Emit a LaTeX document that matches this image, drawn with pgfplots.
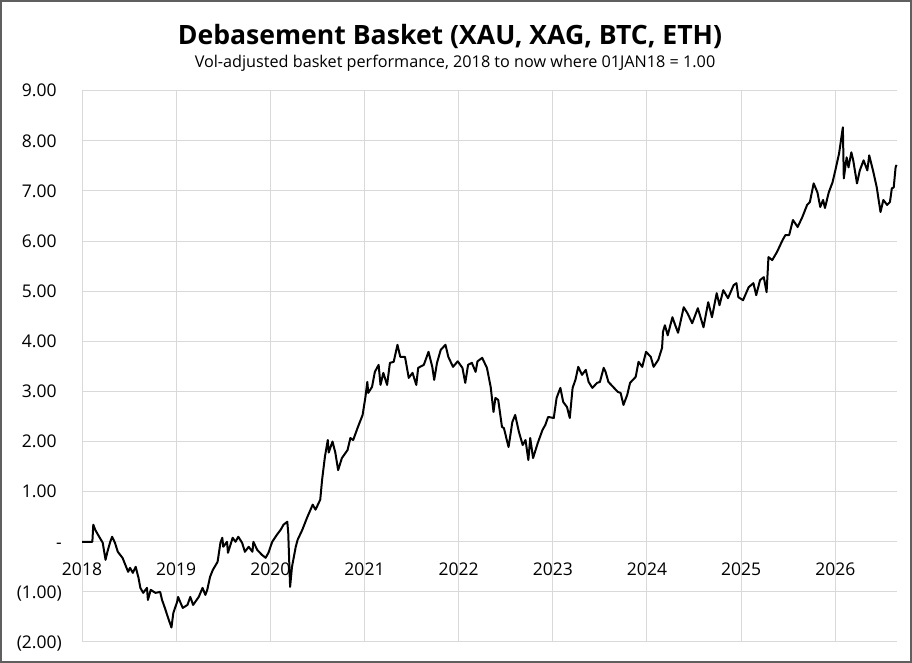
\documentclass[border=0pt]{standalone}
\usepackage{fontspec}
\setmainfont{Open Sans}
\usepackage{pgfplots}
\pgfplotsset{compat=1.18}
\definecolor{gridgray}{HTML}{D9D9D9}
\definecolor{framegray}{HTML}{5F5F5F}
\begin{document}
\begin{tikzpicture}[x=1pt,y=1pt]
\useasboundingbox (0,0) rectangle (912,663);
\draw[framegray, line width=2pt] (1,1) rectangle (911,662);
\node[anchor=base, inner sep=0pt] at (450,618) {\fontsize{26.6}{30}\selectfont\bfseries Debasement Basket (XAU, XAG, BTC, ETH)};
\node[anchor=base, inner sep=0pt] at (455,595) {\fontsize{16.2}{19}\selectfont Vol-adjusted basket performance, 2018 to now where 01JAN18 = 1.00};
\begin{axis}[
  at={(82pt,21pt)}, anchor=south west,
  scale only axis, width=815pt, height=551.3pt,
  xmin=2018, xmax=2026.655, ymin=-2, ymax=9,
  axis x line=middle, axis y line=left,
  axis line style={draw=none,-},
  hide obscured x ticks=false, hide obscured y ticks=false,
  major tick length=0pt,
  grid=major, major grid style={draw=gridgray, line width=1pt},
  xtick={2018,2019,2020,2021,2022,2023,2024,2025,2026},
  xticklabels={2018,2019,2020,2021,2022,2023,2024,2025,2026},
  ytick={-2,-1,0,1,2,3,4,5,6,7,8,9},
  yticklabels={{(2.00)},{(1.00)},{-\hspace{15pt}},{1.00\hphantom{)}},{2.00\hphantom{)}},{3.00\hphantom{)}},{4.00\hphantom{)}},{5.00\hphantom{)}},{6.00\hphantom{)}},{7.00\hphantom{)}},{8.00\hphantom{)}},{9.00\hphantom{)}}},
  /pgf/number format/assume math mode=true,
  ticklabel style={font=\fontsize{17.5}{20}\selectfont, text=black, inner sep=0pt},
  xticklabel style={anchor=base, yshift=-34pt},
  yticklabel style={anchor=base east, xshift=-20pt, yshift=-6.3pt},
  clip=false,
]
\addplot[black, line width=2pt, line join=round] coordinates {
(2018.00,0) (2018.11,0) (2018.12,0.34) (2018.14,0.24) (2018.17,0.14) (2018.22,-0.02) (2018.25,-0.36) (2018.27,-0.2) (2018.30,0) (2018.32,0.1) (2018.35,-0.02) (2018.38,-0.2) (2018.43,-0.32) (2018.46,-0.46) (2018.49,-0.6) (2018.51,-0.52) (2018.54,-0.62) (2018.57,-0.5) (2018.60,-0.72) (2018.62,-0.92) (2018.65,-1.02) (2018.69,-0.92) (2018.70,-1.16) (2018.73,-0.96) (2018.78,-1.02) (2018.83,-1.0) (2018.85,-1.16) (2018.88,-1.32) (2018.92,-1.55) (2018.95,-1.71) (2018.97,-1.42) (2019.01,-1.2) (2019.02,-1.1) (2019.07,-1.32) (2019.12,-1.26) (2019.15,-1.1) (2019.18,-1.26) (2019.24,-1.1) (2019.28,-0.92) (2019.31,-1.06) (2019.33,-0.96) (2019.36,-0.7) (2019.39,-0.56) (2019.44,-0.4) (2019.47,-0.02) (2019.49,0.08) (2019.50,-0.1) (2019.54,0) (2019.55,-0.22) (2019.60,0.08) (2019.63,0) (2019.66,0.1) (2019.70,-0.02) (2019.73,-0.2) (2019.77,-0.1) (2019.81,-0.2) (2019.82,0) (2019.86,-0.16) (2019.91,-0.26) (2019.95,-0.32) (2019.98,-0.22) (2020.02,0) (2020.07,0.14) (2020.11,0.24) (2020.14,0.34) (2020.18,0.4) (2020.19,0.18) (2020.21,-0.9) (2020.23,-0.5) (2020.27,-0.1) (2020.29,0.04) (2020.34,0.24) (2020.39,0.48) (2020.45,0.74) (2020.48,0.64) (2020.53,0.84) (2020.55,1.24) (2020.58,1.7) (2020.61,2.03) (2020.62,1.78) (2020.66,2.0) (2020.69,1.78) (2020.72,1.43) (2020.76,1.67) (2020.82,1.83) (2020.85,2.07) (2020.88,2.03) (2020.93,2.29) (2020.98,2.53) (2021.01,2.89) (2021.03,3.19) (2021.04,2.97) (2021.08,3.09) (2021.11,3.39) (2021.15,3.53) (2021.17,3.13) (2021.20,3.37) (2021.24,3.13) (2021.27,3.57) (2021.31,3.59) (2021.35,3.93) (2021.38,3.69) (2021.43,3.69) (2021.47,3.27) (2021.51,3.37) (2021.55,3.13) (2021.57,3.47) (2021.63,3.53) (2021.68,3.79) (2021.72,3.49) (2021.74,3.23) (2021.77,3.57) (2021.81,3.83) (2021.86,3.93) (2021.89,3.69) (2021.94,3.49) (2021.99,3.6) (2022.04,3.47) (2022.07,3.17) (2022.10,3.53) (2022.14,3.57) (2022.18,3.39) (2022.20,3.6) (2022.25,3.67) (2022.30,3.47) (2022.34,3.09) (2022.37,2.59) (2022.39,2.87) (2022.42,2.83) (2022.46,2.29) (2022.48,2.27) (2022.53,1.89) (2022.57,2.39) (2022.60,2.53) (2022.64,2.19) (2022.68,1.93) (2022.71,2.03) (2022.74,1.63) (2022.76,2.07) (2022.79,1.67) (2022.84,1.97) (2022.89,2.23) (2022.92,2.33) (2022.95,2.49) (2023.01,2.47) (2023.04,2.87) (2023.08,3.07) (2023.11,2.79) (2023.15,2.69) (2023.18,2.47) (2023.21,3.07) (2023.24,3.23) (2023.27,3.49) (2023.31,3.33) (2023.35,3.43) (2023.38,3.19) (2023.42,3.07) (2023.47,3.17) (2023.50,3.19) (2023.54,3.47) (2023.56,3.39) (2023.59,3.19) (2023.65,3.07) (2023.69,2.99) (2023.72,2.97) (2023.75,2.73) (2023.79,2.93) (2023.82,3.17) (2023.88,3.29) (2023.91,3.59) (2023.95,3.49) (2023.99,3.79) (2024.04,3.69) (2024.07,3.49) (2024.12,3.63) (2024.16,3.87) (2024.17,4.19) (2024.19,4.32) (2024.22,4.12) (2024.27,4.48) (2024.30,4.32) (2024.33,4.17) (2024.39,4.68) (2024.43,4.56) (2024.48,4.36) (2024.54,4.66) (2024.60,4.28) (2024.65,4.78) (2024.69,4.48) (2024.74,4.96) (2024.77,4.72) (2024.81,5.02) (2024.86,4.86) (2024.92,5.12) (2024.95,5.16) (2024.97,4.88) (2025.02,4.82) (2025.08,5.08) (2025.13,5.16) (2025.16,4.92) (2025.20,5.22) (2025.24,5.28) (2025.27,4.98) (2025.29,5.68) (2025.33,5.62) (2025.38,5.78) (2025.44,6.02) (2025.47,6.12) (2025.51,6.12) (2025.55,6.42) (2025.60,6.28) (2025.65,6.48) (2025.70,6.72) (2025.73,6.78) (2025.77,7.15) (2025.81,6.97) (2025.84,6.68) (2025.87,6.82) (2025.89,6.66) (2025.93,6.97) (2025.97,7.17) (2026.00,7.41) (2026.04,7.75) (2026.08,8.27) (2026.09,7.25) (2026.12,7.67) (2026.14,7.47) (2026.17,7.77) (2026.19,7.61) (2026.23,7.15) (2026.26,7.41) (2026.30,7.61) (2026.34,7.41) (2026.36,7.71) (2026.40,7.41) (2026.44,7.07) (2026.46,6.82) (2026.48,6.58) (2026.51,6.82) (2026.55,6.72) (2026.58,6.78) (2026.60,7.05) (2026.62,7.07) (2026.64,7.47) (2026.65,7.52)
};
\end{axis}
\end{tikzpicture}
\end{document}
